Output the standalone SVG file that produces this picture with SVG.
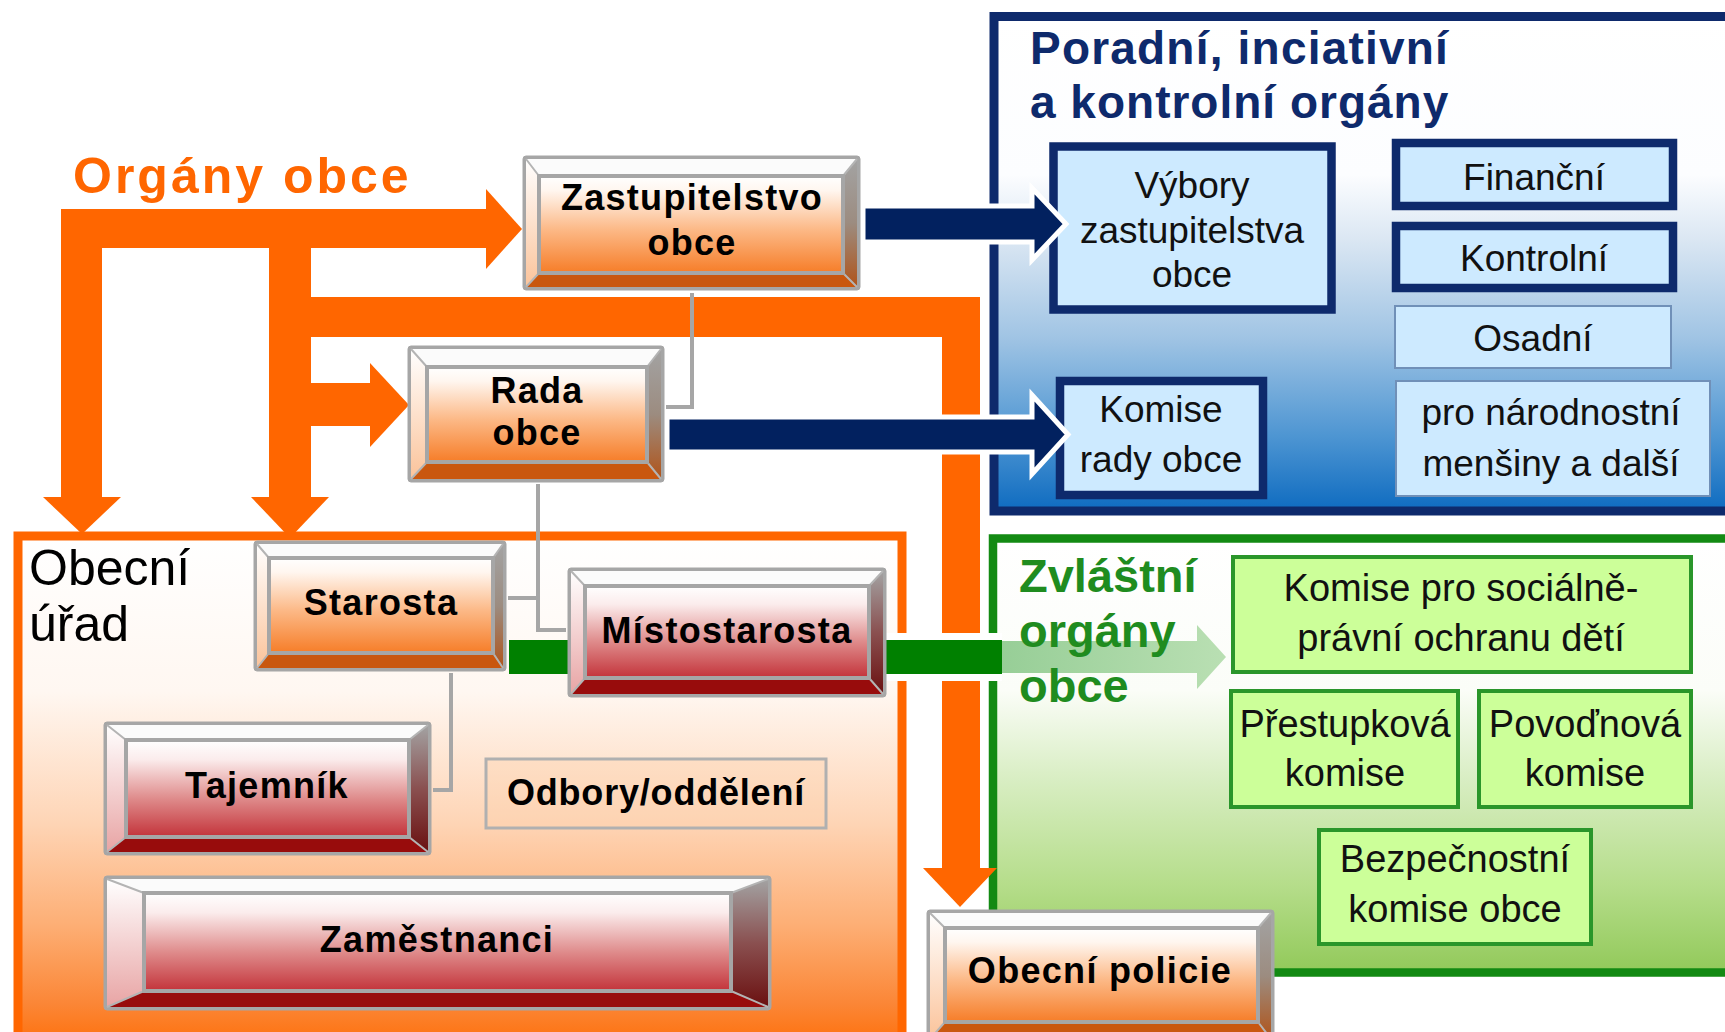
<svg xmlns="http://www.w3.org/2000/svg" width="1725" height="1032" viewBox="0 0 1725 1032">
<defs>
<linearGradient id="gBlue" x1="0" y1="0" x2="0" y2="1">
<stop offset="0" stop-color="#ffffff"/><stop offset="0.32" stop-color="#fcfdff"/><stop offset="0.45" stop-color="#dbe7f3"/><stop offset="0.65" stop-color="#a0c4e4"/><stop offset="0.85" stop-color="#4d95d2"/><stop offset="1" stop-color="#0e6bc0"/>
</linearGradient>
<linearGradient id="gGreen" x1="0" y1="0" x2="0" y2="1">
<stop offset="0" stop-color="#ffffff"/><stop offset="0.35" stop-color="#fbfdf8"/><stop offset="0.55" stop-color="#d9eec4"/><stop offset="0.8" stop-color="#b5dd8a"/><stop offset="1" stop-color="#92c95a"/>
</linearGradient>
<linearGradient id="gOff" x1="0" y1="0" x2="0" y2="1">
<stop offset="0" stop-color="#ffffff"/><stop offset="0.3" stop-color="#fff7f1"/><stop offset="0.55" stop-color="#fed5b6"/><stop offset="0.75" stop-color="#fdae74"/><stop offset="0.9" stop-color="#fb8636"/><stop offset="1" stop-color="#ff6a00"/>
</linearGradient>
<linearGradient id="gFaceO" x1="0" y1="0" x2="0" y2="1">
<stop offset="0" stop-color="#ffffff"/><stop offset="0.15" stop-color="#fff6ef"/><stop offset="0.55" stop-color="#fcb987"/><stop offset="1" stop-color="#f67d28"/>
</linearGradient>
<linearGradient id="gFaceR" x1="0" y1="0" x2="0" y2="1">
<stop offset="0" stop-color="#ffffff"/><stop offset="0.2" stop-color="#fbecec"/><stop offset="0.6" stop-color="#df8c8c"/><stop offset="1" stop-color="#c3333a"/>
</linearGradient>
<linearGradient id="gRightO" x1="0" y1="0" x2="0" y2="1">
<stop offset="0" stop-color="#a3a3a3"/><stop offset="0.5" stop-color="#9c8c80"/><stop offset="1" stop-color="#b0541a"/>
</linearGradient>
<linearGradient id="gRightR" x1="0" y1="0" x2="0" y2="1">
<stop offset="0" stop-color="#a3a3a3"/><stop offset="0.5" stop-color="#8a5050"/><stop offset="1" stop-color="#6a1010"/>
</linearGradient>
<linearGradient id="gLeftO" x1="0" y1="0" x2="0" y2="1">
<stop offset="0" stop-color="#ffffff"/><stop offset="1" stop-color="#fbc39a"/>
</linearGradient>
<linearGradient id="gLeftR" x1="0" y1="0" x2="0" y2="1">
<stop offset="0" stop-color="#ffffff"/><stop offset="1" stop-color="#e8a4a4"/>
</linearGradient>
<linearGradient id="gPale" x1="0" y1="0" x2="1" y2="0">
<stop offset="0" stop-color="#8cc98c"/><stop offset="1" stop-color="#b2dcab"/>
</linearGradient>
</defs>
<style>
.outer{fill:#a6a6a6;stroke:#a6a6a6;stroke-width:1}
.top{fill:#fbfbfb}
.lo{fill:url(#gLeftO)} .lr{fill:url(#gLeftR)}
.ro{fill:url(#gRightO)} .rr{fill:url(#gRightR)}
.bo{fill:#c9570f} .br{fill:#980c0c}
.fo{fill:url(#gFaceO);stroke:#a6a6a6;stroke-width:4}
.fr{fill:url(#gFaceR);stroke:#a6a6a6;stroke-width:4}
.seam{stroke:#b4b4b4;stroke-width:2;fill:none}
.bt{font-family:"Liberation Sans",Arial,sans-serif;font-weight:bold;font-size:36px;letter-spacing:1.3px;fill:#000;text-anchor:middle}
.rt{font-family:"Liberation Sans",Arial,sans-serif;font-size:37px;fill:#111;text-anchor:middle}
.gt{font-family:"Liberation Sans",Arial,sans-serif;font-size:38px;fill:#111;text-anchor:middle}
.navybox{fill:#cdeaff;stroke:#0e2a6c;stroke-width:8.5}
.thinbox{fill:#cdeaff;stroke:#7090b8;stroke-width:2}
.greenbox{fill:#ccff99;stroke:#2a962a;stroke-width:4}
.or{fill:#ff6600}
.grey{fill:none;stroke:#a6a6a6;stroke-width:4}
.navyarrow{fill:#02215f;stroke:#ffffff;stroke-width:5;stroke-linejoin:miter}
</style>
<rect x="0" y="0" width="1725" height="1032" fill="#ffffff"/>

<!-- containers -->
<g id="poradni-organy">
<rect x="994" y="16.5" width="760" height="494.5" fill="url(#gBlue)" stroke="#0e2a6c" stroke-width="9"/>
<text x="1030" y="64" font-family="Liberation Sans, Arial, sans-serif" font-weight="bold" font-size="46" letter-spacing="1.2" fill="#0e2a6c">Poradní, inciativní</text>
<text x="1030" y="118" font-family="Liberation Sans, Arial, sans-serif" font-weight="bold" font-size="46" letter-spacing="1" fill="#0e2a6c">a kontrolní orgány</text>
</g>
<g id="zvlastni-organy">
<rect x="993" y="538.5" width="760" height="434" fill="url(#gGreen)" stroke="#138a13" stroke-width="8.5"/>
</g>
<g id="obecni-urad">
<rect x="18" y="536" width="884" height="520" fill="url(#gOff)" stroke="#ff6600" stroke-width="9"/>
<text x="29" y="585" font-family="Liberation Sans, Arial, sans-serif" font-size="50" fill="#000">Obecní</text>
<text x="29" y="641" font-family="Liberation Sans, Arial, sans-serif" font-size="50" fill="#000">úřad</text>
</g>

<!-- blue sub boxes -->
<g id="vybory"><rect class="navybox" x="1053.5" y="146.5" width="278" height="163"/>
<text class="rt" x="1192" y="198">Výbory</text><text class="rt" x="1192" y="243">zastupitelstva</text><text class="rt" x="1192" y="287">obce</text></g>
<g id="financni"><rect class="navybox" x="1396" y="143" width="277" height="63"/><text class="rt" x="1534" y="190">Finanční</text></g>
<g id="kontrolni"><rect class="navybox" x="1396" y="226" width="277" height="62"/><text class="rt" x="1534" y="271">Kontrolní</text></g>
<g id="osadni"><rect class="thinbox" x="1395" y="306" width="276" height="62"/><text class="rt" x="1533" y="351">Osadní</text></g>
<g id="narodnostni"><rect class="thinbox" x="1396" y="381" width="314" height="115"/>
<text class="rt" x="1551" y="425">pro národnostní</text><text class="rt" x="1551" y="476">menšiny a další</text></g>
<g id="komise-rady"><rect class="navybox" x="1060" y="381" width="203" height="114"/>
<text class="rt" x="1161" y="422">Komise</text><text class="rt" x="1161" y="472">rady obce</text></g>

<!-- green sub boxes -->
<g id="komise-ospod"><rect class="greenbox" x="1233" y="557" width="458" height="115"/>
<text class="gt" x="1461" y="601">Komise pro sociálně-</text><text class="gt" x="1461" y="651">právní  ochranu dětí</text></g>
<g id="prestupkova"><rect class="greenbox" x="1231" y="691" width="227" height="116"/>
<text class="gt" x="1345" y="737">Přestupková</text><text class="gt" x="1345" y="786">komise</text></g>
<g id="povodnova"><rect class="greenbox" x="1479" y="691" width="212" height="116"/>
<text class="gt" x="1585" y="737">Povoďnová</text><text class="gt" x="1585" y="786">komise</text></g>
<g id="bezpecnostni"><rect class="greenbox" x="1319" y="830" width="272" height="114"/>
<text class="gt" x="1455" y="872">Bezpečnostní</text><text class="gt" x="1455" y="922">komise obce</text></g>

<!-- connectors -->
<g id="connectors">
<!-- orange arrows -->
<rect class="or" x="61" y="209" width="426" height="39"/>
<polygon class="or" points="486,189 522,229 486,269"/>
<rect class="or" x="61" y="209" width="41" height="289"/>
<polygon class="or" points="43,497 121,497 82,534"/>
<rect class="or" x="269" y="247" width="42" height="251"/>
<polygon class="or" points="251,497 329,497 290,538"/>
<rect class="or" x="310" y="383" width="61" height="43"/>
<polygon class="or" points="370,363 409,405 370,447"/>
<rect class="or" x="310" y="297" width="670" height="40"/>
<rect class="or" x="942" y="297" width="38" height="572"/>
<polygon class="or" points="923,868 997,868 960,907"/>
<!-- grey lines -->
<path class="grey" d="M692,293 V407 H666"/>
<path class="grey" d="M538,484 V630 H566 M508,598 H538"/>
<path class="grey" d="M451,673 V790 H433"/>
<!-- green bar -->
<rect x="509" y="640" width="60" height="34" fill="#008000"/>
<rect x="886" y="633" width="116" height="48" fill="#ffffff"/>
<rect x="886" y="640" width="116" height="34" fill="#008000"/>
<polygon points="1002,641 1197,641 1197,625 1226,657 1197,689 1197,673 1002,673" fill="url(#gPale)" opacity="0.9"/>
<!-- navy arrows -->
<polygon class="navyarrow" points="863,206 1032,206 1032,188 1066,224 1032,260 1032,242 863,242"/>
<polygon class="navyarrow" points="667,417 1032,417 1032,395 1068,434.5 1032,474 1032,452 667,452"/>
</g>

<g id="zvlastni-label">
<text x="1019" y="592" font-family="Liberation Sans, Arial, sans-serif" font-weight="bold" font-size="47" fill="#1f8c1f">Zvláštní</text>
<text x="1019" y="647" font-family="Liberation Sans, Arial, sans-serif" font-weight="bold" font-size="47" fill="#1f8c1f">orgány</text>
<text x="1019" y="702" font-family="Liberation Sans, Arial, sans-serif" font-weight="bold" font-size="47" fill="#1f8c1f">obce</text>
</g>
<g id="organy-obce-label">
<text x="73" y="193" font-family="Liberation Sans, Arial, sans-serif" font-weight="bold" font-size="50" letter-spacing="3" fill="#ff6600">Orgány obce</text>
</g>

<!-- bevel nodes -->
<g id="zastupitelstvo">
<rect class="outer" x="523" y="156" width="337" height="134" rx="3" stroke-width="6"/>
<polygon class="top" points="526,159 857,159 843,176 539,176"/>
<polygon class="lo" points="526,159 539,176 539,273 526,287"/>
<polygon class="ro" points="857,159 857,287 843,273 843,176"/>
<polygon class="bo" points="526,287 539,273 843,273 857,287"/>
<path class="seam" d="M526,159 L539,176 M857,159 L843,176 M526,287 L539,273 M857,287 L843,273"/>
<rect class="fo" x="539" y="176" width="304" height="97"/>
<text class="bt" x="692" y="210">Zastupitelstvo</text><text class="bt" x="692" y="255">obce</text>
</g>
<g id="rada">
<rect class="outer" x="408" y="346" width="256" height="136" rx="3" stroke-width="6"/>
<polygon class="top" points="411,349 661,349 647,367 427,367"/>
<polygon class="lo" points="411,349 427,367 427,462 411,479"/>
<polygon class="ro" points="661,349 661,479 647,462 647,367"/>
<polygon class="bo" points="411,479 427,462 647,462 661,479"/>
<path class="seam" d="M411,349 L427,367 M661,349 L647,367 M411,479 L427,462 M661,479 L647,462"/>
<rect class="fo" x="427" y="367" width="220" height="95"/>
<text class="bt" x="537" y="403">Rada</text><text class="bt" x="537" y="445">obce</text>
</g>
<g id="starosta">
<rect class="outer" x="254" y="541" width="252" height="130" rx="3" stroke-width="6"/>
<polygon class="top" points="257,544 503,544 493,558 269,558"/>
<polygon class="lo" points="257,544 269,558 269,653 257,668"/>
<polygon class="ro" points="503,544 503,668 493,653 493,558"/>
<polygon class="bo" points="257,668 269,653 493,653 503,668"/>
<path class="seam" d="M257,544 L269,558 M503,544 L493,558 M257,668 L269,653 M503,668 L493,653"/>
<rect class="fo" x="269" y="558" width="224" height="95"/>
<text class="bt" x="381" y="615">Starosta</text>
</g>
<g id="mistostarosta">
<rect class="outer" x="568" y="568" width="318" height="129" rx="3" stroke-width="6"/>
<polygon class="top" points="571,571 883,571 869,586 585,586"/>
<polygon class="lr" points="571,571 585,586 585,678 571,694"/>
<polygon class="rr" points="883,571 883,694 869,678 869,586"/>
<polygon class="br" points="571,694 585,678 869,678 883,694"/>
<path class="seam" d="M571,571 L585,586 M883,571 L869,586 M571,694 L585,678 M883,694 L869,678"/>
<rect class="fr" x="585" y="586" width="284" height="92"/>
<text class="bt" x="727" y="643">Místostarosta</text>
</g>
<g id="tajemnik">
<rect class="outer" x="104" y="722" width="327" height="133" rx="3" stroke-width="6"/>
<polygon class="top" points="107,725 428,725 409,740 126,740"/>
<polygon class="lr" points="107,725 126,740 126,837 107,852"/>
<polygon class="rr" points="428,725 428,852 409,837 409,740"/>
<polygon class="br" points="107,852 126,837 409,837 428,852"/>
<path class="seam" d="M107,725 L126,740 M428,725 L409,740 M107,852 L126,837 M428,852 L409,837"/>
<rect class="fr" x="126" y="740" width="283" height="97"/>
<text class="bt" x="267" y="798">Tajemník</text>
</g>
<g id="odbory">
<rect x="486" y="759" width="340" height="69" fill="#fdd0ac" fill-opacity="0.35" stroke="#b0b0b0" stroke-width="3"/>
<text class="bt" x="656" y="805" style="letter-spacing:0.8px">Odbory/oddělení</text>
</g>
<g id="zamestnanci">
<rect class="outer" x="104" y="876" width="667" height="134" rx="3" stroke-width="6"/>
<polygon class="top" points="107,879 768,879 731,893 144,893"/>
<polygon class="lr" points="107,879 144,893 144,991 107,1007"/>
<polygon class="rr" points="768,879 768,1007 731,991 731,893"/>
<polygon class="br" points="107,1007 144,991 731,991 768,1007"/>
<path class="seam" d="M107,879 L144,893 M768,879 L731,893 M107,1007 L144,991 M768,1007 L731,991"/>
<rect class="fr" x="144" y="893" width="587" height="98"/>
<text class="bt" x="437" y="952">Zaměstnanci</text>
</g>
<g id="obecni-policie">
<rect class="outer" x="927" y="910" width="347" height="132" rx="3" stroke-width="6"/>
<polygon class="top" points="930,913 1271,913 1258,928 945,928"/>
<polygon class="lo" points="930,913 945,928 945,1022 930,1039"/>
<polygon class="ro" points="1271,913 1271,1039 1258,1022 1258,928"/>
<polygon class="bo" points="930,1039 945,1022 1258,1022 1271,1039"/>
<path class="seam" d="M930,913 L945,928 M1271,913 L1258,928 M930,1039 L945,1022 M1271,1039 L1258,1022"/>
<rect class="fo" x="945" y="928" width="313" height="94"/>
<text class="bt" x="1100" y="983">Obecní policie</text>
</g>
</svg>
